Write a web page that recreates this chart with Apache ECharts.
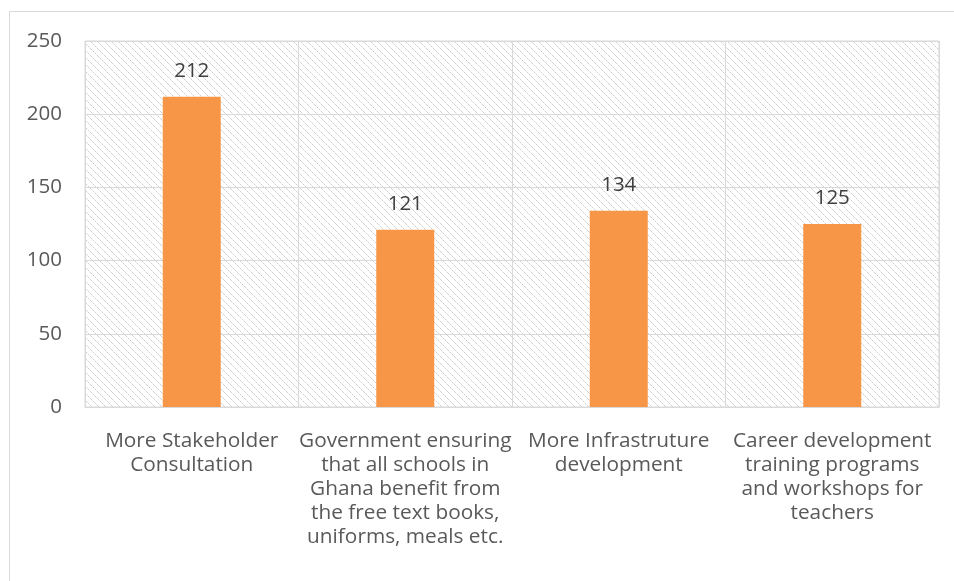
<!DOCTYPE html>
<html>
<head>
<meta charset="utf-8">
<script src="https://cdn.jsdelivr.net/npm/echarts@6/dist/echarts.min.js"></script>
<style>
  html, body { margin: 0; padding: 0; background: #fff; }
  #chart { width: 954px; height: 581px; }
</style>
</head>
<body>
<div id="chart"></div>
<script>
// Categories and counts for each suggested intervention
const categories = [
  'More Stakeholder\nConsultation',
  'Government ensuring\nthat all schools in\nGhana benefit from\nthe free text books,\nuniforms, meals etc.',
  'More Infrastruture\ndevelopment',
  'Career development\ntraining programs\nand workshops for\nteachers'
];
const counts = [212, 121, 134, 125];
const yTicks = [0, 50, 100, 150, 200, 250];

// Diagonal hatch tile used to fill the plot background
function hatchTile() {
  const size = 7;
  const c = document.createElement('canvas');
  c.width = size; c.height = size;
  const ctx = c.getContext('2d');
  ctx.fillStyle = '#ffffff';
  ctx.fillRect(0, 0, size, size);
  for (let i = 0; i < size; i++) {
    ctx.fillStyle = (i % 2 === 0) ? '#d0d0d0' : '#e6e6e6';
    ctx.fillRect(i, i, 1, 1);
  }
  return c;
}

const font = '"Open Sans", Lato, sans-serif';
const chart = echarts.init(document.getElementById('chart'), null, { renderer: 'canvas' });

chart.setOption({
  animation: false,
  backgroundColor: '#ffffff',
  graphic: [{
    type: 'rect',
    shape: { x: 9.5, y: 11.5, width: 960, height: 600 },
    style: { fill: 'none', stroke: '#d9d9d9', lineWidth: 1 },
    silent: true
  }],
  grid: {
    left: 85, top: 41, right: 15, bottom: 174,
    show: true,
    backgroundColor: { image: hatchTile(), repeat: 'repeat' },
    borderColor: '#d9d9d9',
    borderWidth: 1
  },
  xAxis: {
    type: 'category',
    data: categories,
    axisLine: { show: true, lineStyle: { color: '#d9d9d9', width: 1 } },
    axisTick: { show: false },
    splitLine: { show: true, lineStyle: { color: '#d9d9d9', width: 1 } },
    axisLabel: {
      interval: 0,
      color: '#595959',
      fontFamily: font,
      fontSize: 20.8,
      lineHeight: 24,
      margin: 22,
      align: 'center'
    }
  },
  yAxis: {
    type: 'value',
    min: yTicks[0],
    max: yTicks[yTicks.length - 1],
    interval: 50,
    axisLine: { show: false },
    axisTick: { show: false },
    splitLine: { show: true, lineStyle: { color: '#d9d9d9', width: 1 } },
    axisLabel: {
      color: '#595959',
      fontFamily: font,
      fontSize: 20.5,
      margin: 23
    }
  },
  series: [{
    type: 'bar',
    data: counts,
    barWidth: 58,
    itemStyle: { color: '#f79646' },
    label: {
      show: true,
      position: 'top',
      distance: 15,
      color: '#404040',
      fontFamily: font,
      fontSize: 20.5
    }
  }]
});
</script>
</body>
</html>
